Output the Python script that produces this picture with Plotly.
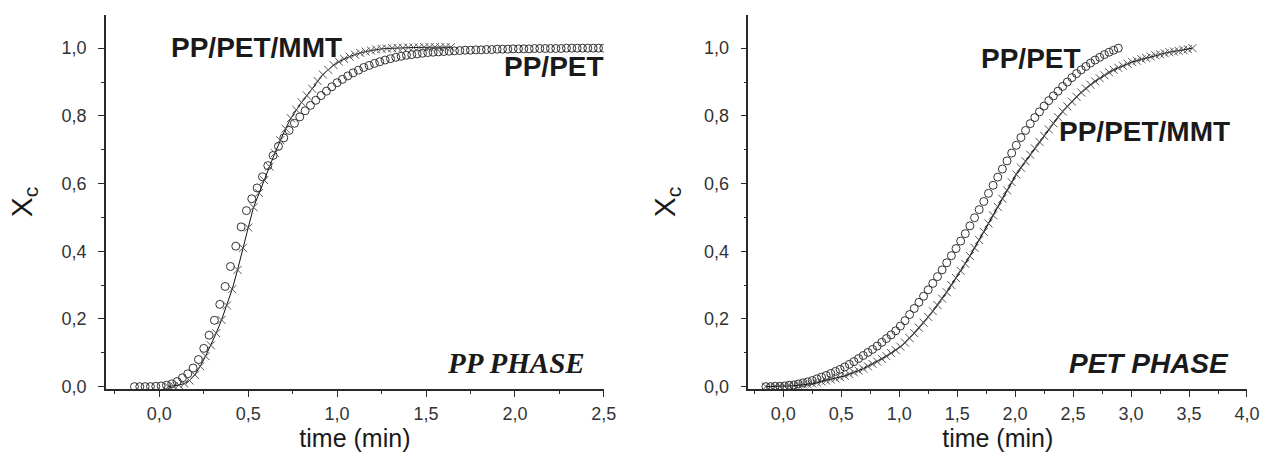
import plotly.graph_objects as go

# ---------------- data: PP phase (left) ----------------
pp_t_ppet = [-0.14, -0.11, -0.08, -0.05, -0.02, 0.01, 0.04, 0.07, 0.10, 0.13, 0.16, 0.19, 0.22, 0.25,
             0.28, 0.31, 0.34, 0.37, 0.40, 0.43, 0.46, 0.49, 0.52, 0.55, 0.58, 0.61, 0.64, 0.67, 0.70,
             0.73, 0.76, 0.79, 0.82, 0.85, 0.88, 0.91, 0.94, 0.97, 1.00, 1.03, 1.06, 1.09, 1.12, 1.15,
             1.18, 1.21, 1.24, 1.27, 1.30, 1.33, 1.36, 1.39, 1.42, 1.45, 1.48, 1.51, 1.54, 1.57, 1.60,
             1.63, 1.66, 1.69, 1.72, 1.75, 1.78, 1.81, 1.84, 1.87, 1.90, 1.93, 1.96, 1.99, 2.02, 2.05,
             2.08, 2.11, 2.14, 2.17, 2.20, 2.23, 2.26, 2.29, 2.32, 2.35, 2.38, 2.41, 2.44, 2.47, 2.50]
pp_x_ppet = [0.0, 0.0, 0.0, 0.0, 0.001, 0.002, 0.004, 0.008, 0.015, 0.026, 0.038, 0.055, 0.08, 0.113,
             0.152, 0.196, 0.243, 0.296, 0.355, 0.415, 0.472, 0.52, 0.555, 0.587, 0.62, 0.653, 0.683, 0.71, 0.735,
             0.757, 0.778, 0.797, 0.815, 0.831, 0.846, 0.86, 0.873, 0.886, 0.898, 0.908, 0.918, 0.927, 0.935, 0.943,
             0.949, 0.955, 0.96, 0.965, 0.969, 0.973, 0.976, 0.979, 0.981, 0.983, 0.985, 0.987, 0.988, 0.989, 0.99,
             0.991, 0.992, 0.993, 0.994, 0.994, 0.995, 0.995, 0.996, 0.996, 0.997, 0.997, 0.997, 0.998, 0.998, 0.998,
             0.998, 0.999, 0.999, 0.999, 0.999, 0.999, 0.999, 1.0, 1.0, 1.0, 1.0, 1.0, 1.0, 1.0, 1.0]

pp_t_mmt = [0.05, 0.08, 0.11, 0.14, 0.17, 0.20, 0.23, 0.26, 0.29, 0.32, 0.35, 0.38, 0.41, 0.44, 0.47,
            0.50, 0.53, 0.56, 0.59, 0.62, 0.65, 0.68, 0.71, 0.74, 0.77, 0.80, 0.83, 0.86, 0.89, 0.92,
            0.95, 0.98, 1.01, 1.04, 1.07, 1.10, 1.13, 1.16, 1.19, 1.22, 1.25, 1.28, 1.31, 1.34, 1.37,
            1.40, 1.43, 1.46, 1.49, 1.52, 1.55, 1.58, 1.61, 1.64]
pp_x_mmt = [0.0, 0.002, 0.005, 0.009, 0.018, 0.035, 0.06, 0.09, 0.122, 0.158, 0.197, 0.24, 0.288, 0.345, 0.41,
            0.47, 0.53, 0.572, 0.61, 0.65, 0.69, 0.728, 0.762, 0.793, 0.818, 0.84, 0.86, 0.88, 0.903, 0.922,
            0.936, 0.95, 0.96, 0.968, 0.975, 0.981, 0.986, 0.99, 0.993, 0.996, 0.998, 0.999, 1.0, 1.001, 1.001,
            1.002, 1.002, 1.002, 1.003, 1.003, 1.003, 1.003, 1.003, 1.003]

# ---------------- data: PET phase (right) ----------------
pet_t_ppet = [-0.15, -0.11, -0.07, -0.03, 0.01, 0.05, 0.09, 0.13, 0.17, 0.21, 0.25, 0.29, 0.33, 0.37,
              0.41, 0.45, 0.49, 0.53, 0.57, 0.61, 0.65, 0.69, 0.73, 0.77, 0.81, 0.85, 0.89, 0.93, 0.97,
              1.01, 1.05, 1.09, 1.13, 1.17, 1.21, 1.25, 1.29, 1.33, 1.37, 1.41, 1.45, 1.49, 1.53, 1.57,
              1.61, 1.65, 1.69, 1.73, 1.77, 1.81, 1.85, 1.89, 1.93, 1.97, 2.01, 2.05, 2.09, 2.13, 2.17,
              2.21, 2.25, 2.29, 2.33, 2.37, 2.41, 2.45, 2.49, 2.53, 2.57, 2.61, 2.65, 2.69, 2.73, 2.77,
              2.81, 2.85, 2.89]
pet_x_ppet = [0.0, 0.0, 0.001, 0.001, 0.002, 0.004, 0.005, 0.008, 0.011, 0.014, 0.018, 0.023, 0.028, 0.033,
              0.039, 0.045, 0.051, 0.058, 0.066, 0.074, 0.083, 0.092, 0.101, 0.11, 0.12, 0.131, 0.142, 0.153, 0.165,
              0.179, 0.195, 0.213, 0.231, 0.249, 0.267, 0.286, 0.305, 0.325, 0.345, 0.366, 0.387, 0.408, 0.43, 0.452,
              0.475, 0.499, 0.523, 0.547, 0.571, 0.595, 0.619, 0.643, 0.667, 0.69, 0.713, 0.736, 0.757, 0.777, 0.795,
              0.812, 0.829, 0.845, 0.859, 0.873, 0.887, 0.9, 0.913, 0.925, 0.936, 0.946, 0.956, 0.965, 0.973, 0.981,
              0.988, 0.994, 1.0]

pet_t_mmt = [-0.15, -0.11, -0.07, -0.03, 0.01, 0.05, 0.09, 0.13, 0.17, 0.21, 0.25, 0.29, 0.33, 0.37,
             0.41, 0.45, 0.49, 0.53, 0.57, 0.61, 0.65, 0.69, 0.73, 0.77, 0.81, 0.85, 0.89, 0.93, 0.97,
             1.01, 1.05, 1.09, 1.13, 1.17, 1.21, 1.25, 1.29, 1.33, 1.37, 1.41, 1.45, 1.49, 1.53, 1.57,
             1.61, 1.65, 1.69, 1.73, 1.77, 1.81, 1.85, 1.89, 1.93, 1.97, 2.01, 2.05, 2.09, 2.13, 2.17,
             2.21, 2.25, 2.29, 2.33, 2.37, 2.41, 2.45, 2.49, 2.53, 2.57, 2.61, 2.65, 2.69, 2.73, 2.77,
             2.81, 2.85, 2.89, 2.93, 2.97, 3.01, 3.05, 3.09, 3.13, 3.17, 3.21, 3.25, 3.29, 3.33, 3.37,
             3.41, 3.45, 3.49, 3.53]
pet_x_mmt = [0.0, 0.0, 0.0, 0.001, 0.001, 0.002, 0.003, 0.004, 0.006, 0.007, 0.009, 0.012, 0.015, 0.018,
             0.021, 0.024, 0.028, 0.032, 0.037, 0.042, 0.047, 0.053, 0.06, 0.067, 0.074, 0.082, 0.09, 0.099, 0.108,
             0.118, 0.13, 0.143, 0.158, 0.174, 0.189, 0.206, 0.223, 0.241, 0.26, 0.279, 0.3, 0.321, 0.342, 0.363,
             0.386, 0.41, 0.433, 0.457, 0.482, 0.506, 0.531, 0.555, 0.58, 0.604, 0.627, 0.647, 0.666, 0.685, 0.704,
             0.723, 0.741, 0.76, 0.778, 0.796, 0.813, 0.828, 0.842, 0.856, 0.869, 0.881, 0.892, 0.902, 0.911, 0.92,
             0.929, 0.936, 0.942, 0.948, 0.954, 0.959, 0.963, 0.967, 0.971, 0.975, 0.979, 0.982, 0.985, 0.988, 0.99,
             0.992, 0.995, 0.997, 1.0]

y_ticks = [0.0, 0.2, 0.4, 0.6, 0.8, 1.0]
x_ticks_pp = [0.0, 0.5, 1.0, 1.5, 2.0, 2.5]
x_ticks_pet = [0.0, 0.5, 1.0, 1.5, 2.0, 2.5, 3.0, 3.5, 4.0]

# ---------------- style ----------------
FONT = "Liberation Sans, Arial, sans-serif"
AXC = "#2a2a2a"
circ = dict(symbol="circle-open", size=8, line=dict(width=1, color="#333333"), color="#333333")
cross = dict(symbol="x-thin-open", size=8, line=dict(width=1, color="#555555"), color="#555555")

fig = go.Figure()
fig.add_trace(go.Scatter(x=pp_t_ppet, y=pp_x_ppet, mode="markers", marker=circ,
                         name="PP/PET", xaxis="x", yaxis="y"))
fig.add_trace(go.Scatter(x=pp_t_mmt, y=pp_x_mmt, mode="lines+markers", marker=cross,
                         line=dict(color="#111111", width=1), name="PP/PET/MMT", xaxis="x", yaxis="y"))
fig.add_trace(go.Scatter(x=pet_t_ppet, y=pet_x_ppet, mode="markers", marker=circ,
                         name="PP/PET", xaxis="x2", yaxis="y2"))
fig.add_trace(go.Scatter(x=pet_t_mmt, y=pet_x_mmt, mode="lines+markers", marker=cross,
                         line=dict(color="#111111", width=1.2), name="PP/PET/MMT", xaxis="x2", yaxis="y2"))

def xax(domain, rng, ticks):
    return dict(domain=domain, range=rng, tickvals=ticks, ticktext=[f"{v:.1f}".replace(".", ",") for v in ticks],
                showline=True, linecolor=AXC, linewidth=1.5, ticks="outside", ticklen=6, tickwidth=1.3,
                tickcolor=AXC, showgrid=False, zeroline=False, mirror=False,
                tickfont=dict(family=FONT, size=18, color="#333333"), ticklabelstandoff=2,
                minor=dict(dtick=0.25, tick0=0, ticks="outside", ticklen=3, tickwidth=1.2, tickcolor=AXC),
                title=dict(text="time (min)", font=dict(family=FONT, size=25, color="#1a1a1a"), standoff=3),
                automargin=False)

def yax(anchor):
    return dict(domain=[0, 1], range=[-0.007, 1.098], anchor=anchor, tickvals=y_ticks,
                ticktext=[f"{v:.1f}".replace(".", ",") for v in y_ticks],
                showline=True, linecolor=AXC, linewidth=1.5, ticks="outside", ticklen=6, tickwidth=1.3,
                tickcolor=AXC, showgrid=False, zeroline=False,
                tickfont=dict(family=FONT, size=18, color="#333333"), ticklabelstandoff=8,
                minor=dict(dtick=0.1, tick0=0, ticks="outside", ticklen=3, tickwidth=1.2, tickcolor=AXC),
                title=dict(text="X<sub>c</sub>", font=dict(family=FONT, size=30, color="#1a1a1a"), standoff=20),
                automargin=False)

fig.update_layout(
    width=1262, height=454,
    margin=dict(l=106, r=15, t=15, b=65),
    paper_bgcolor="white", plot_bgcolor="white",
    showlegend=False,
    xaxis=xax([0, 0.4363], [-0.3, 2.5001], x_ticks_pp) | dict(anchor="y"),
    yaxis=yax("x"),
    xaxis2=xax([0.5631, 1], [-0.3, 4.0001], x_ticks_pet) | dict(anchor="y2"),
    yaxis2=yax("x2"),
)

lab = dict(family=FONT, size=28, color="#1a1a1a")
ann = [
    dict(text="<b>PP/PET/MMT</b>", x=0.0561, y=0.9144, xanchor="left", font=lab),
    dict(text="<b>PP/PET</b>", x=0.4372, y=0.861, xanchor="right", font=lab),
    dict(text="<b><i>PP PHASE</i></b>", x=0.4206, y=0.0695, xanchor="right",
         font=dict(family="Liberation Serif, Times New Roman, serif", size=29, color="#1a1a1a")),
    dict(text="<b>PP/PET</b>", x=0.7658, y=0.885, xanchor="left", font=lab),
    dict(text="<b>PP/PET/MMT</b>", x=0.8341, y=0.6872, xanchor="left", font=lab),
    dict(text="<b><i>PET PHASE</i></b>", x=0.9848, y=0.0695, xanchor="right",
         font=dict(family=FONT, size=28, color="#1a1a1a")),
]
for a in ann:
    a.update(xref="paper", yref="paper", yanchor="middle", showarrow=False, borderpad=0)
fig.update_layout(annotations=ann)

fig.write_html("out.html", config={"displayModeBar": False},
               post_script="document.body.style.margin='0';document.body.style.overflow='hidden';")
